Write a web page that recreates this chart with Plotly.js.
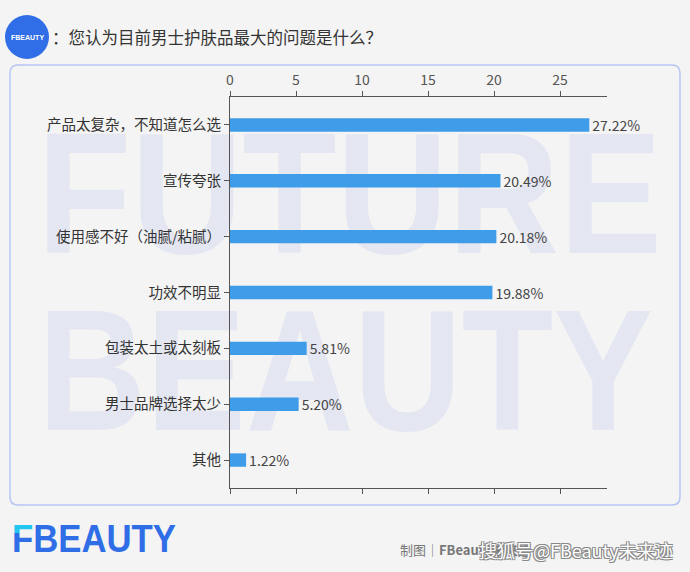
<!DOCTYPE html>
<html>
<head>
<meta charset="utf-8">
<script src="https://cdn.plot.ly/plotly-3.0.1.min.js"></script>
<style>
  html, body { margin:0; padding:0; background:#f4f4f4; }
  #wrap { position:relative; width:690px; height:572px; overflow:hidden; }
  #bg { position:absolute; left:0; top:0; }
  #chart { position:absolute; left:0; top:0; width:690px; height:572px; }
</style>
</head>
<body>
<div id="wrap">
<svg id="bg" width="690" height="572" xmlns="http://www.w3.org/2000/svg">
  <defs>
    <linearGradient id="fgrad" gradientUnits="userSpaceOnUse" x1="0" y1="525" x2="0" y2="552">
      <stop offset="0.3" stop-color="#22c6f0"/>
      <stop offset="0.3" stop-color="#2f6ee6"/>
    </linearGradient>
  </defs>
  <g transform="translate(37,253) scale(1,1.23)">
    <text x="0" y="0" font-family="Liberation Sans Narrow, Liberation Sans, Arial, sans-serif" font-weight="700" font-size="140" fill="#e4e7f2" textLength="625" lengthAdjust="spacingAndGlyphs">FUTURE</text>
  </g>
  <g transform="translate(38,430) scale(1,1.23)">
    <text x="0" y="0" font-family="Liberation Sans Narrow, Liberation Sans, Arial, sans-serif" font-weight="700" font-size="140" fill="#e4e7f2" textLength="615" lengthAdjust="spacingAndGlyphs">BEAUTY</text>
  </g>
  <text x="12" y="552" font-family="Liberation Sans Narrow, Liberation Sans, Arial, sans-serif" font-weight="700" font-size="38" fill="#2f6ee6" textLength="164" lengthAdjust="spacingAndGlyphs"><tspan fill="url(#fgrad)">F</tspan>BEAUTY</text>
</svg>
<div id="chart"></div>
</div>
<script>
// ---- data ----
const categories = ['产品太复杂，不知道怎么选','宣传夸张','使用感不好（油腻/粘腻）','功效不明显','包装太土或太刻板','男士品牌选择太少','其他'];
const values = [27.22, 20.49, 20.18, 19.88, 5.81, 5.20, 1.22];
const xTickVals = [0, 5, 10, 15, 20, 25];
const titleText = '：您认为目前男士护肤品最大的问题是什么？';
const footerText = '制图｜<b>FBeauty未来迹</b>';
const sourceMark = '搜狐号@FBeauty未来迹';

// ---- layout helpers (pixel -> paper) ----
const L = 230, R = 607, T = 97, B = 488;
const px = x => (x - L) / (R - L);
const py = y => (B - y) / (B - T);
const FONT = 'Noto Sans CJK SC, Noto Sans, sans-serif';

function roundRect(x0, y0, x1, y1, r) {
  return `M ${px(x0+r)},${py(y0)} L ${px(x1-r)},${py(y0)} Q ${px(x1)},${py(y0)} ${px(x1)},${py(y0+r)} ` +
         `L ${px(x1)},${py(y1-r)} Q ${px(x1)},${py(y1)} ${px(x1-r)},${py(y1)} ` +
         `L ${px(x0+r)},${py(y1)} Q ${px(x0)},${py(y1)} ${px(x0)},${py(y1-r)} ` +
         `L ${px(x0)},${py(y0+r)} Q ${px(x0)},${py(y0)} ${px(x0+r)},${py(y0)} Z`;
}

const trace = {
  type: 'bar',
  orientation: 'h',
  y: categories,
  x: values,
  marker: { color: '#3e9ce9' },
  texttemplate: '%{x:.2f}%',
  textposition: 'outside',
  constraintext: 'none',
  cliponaxis: false,
  textfont: { family: FONT, size: 14, color: '#444' },
  hoverinfo: 'none'
};

const layout = {
  width: 690, height: 572,
  margin: { l: L, r: 690 - R, t: T, b: 572 - B, autoexpand: false },
  paper_bgcolor: 'rgba(0,0,0,0)',
  plot_bgcolor: 'rgba(0,0,0,0)',
  bargap: 0.76,
  showlegend: false,
  font: { family: FONT },
  xaxis: {
    side: 'top', range: [0, 28.56], tickvals: xTickVals,
    ticks: 'outside', ticklen: 5, tickcolor: '#555', tickwidth: 1,
    showline: true, linecolor: '#555', linewidth: 1, mirror: 'ticks',
    showgrid: false, zeroline: false,
    tickfont: { family: FONT, size: 14, color: '#555' }
  },
  yaxis: {
    autorange: 'reversed', type: 'category',
    ticks: 'outside', ticklen: 5, tickcolor: '#555', tickwidth: 1,
    showline: true, linecolor: '#555', linewidth: 1,
    showgrid: false, zeroline: false,
    tickfont: { family: FONT, size: 14.5, color: '#333' }
  },
  shapes: [
    { type: 'path', xref: 'paper', yref: 'paper', layer: 'below',
      path: roundRect(10, 65, 680, 505, 8),
      line: { color: '#b7c6f1', width: 1.5 }, fillcolor: 'rgba(0,0,0,0)' },
    { type: 'circle', xref: 'paper', yref: 'paper', layer: 'above',
      x0: px(5), x1: px(49), y0: py(59), y1: py(15),
      fillcolor: '#2f6ee6', line: { width: 0 } }
  ],
  annotations: [
    { xref: 'paper', yref: 'paper', x: px(27), y: py(38), xanchor: 'center', yanchor: 'middle',
      text: '<b>FBEAUTY</b>', showarrow: false,
      font: { family: 'Liberation Sans, Arial, sans-serif', size: 7, color: '#ffffff' } },
    { xref: 'paper', yref: 'paper', x: px(50), y: py(37), xanchor: 'left', yanchor: 'middle',
      text: titleText, showarrow: false,
      font: { family: FONT, size: 16.5, color: '#333' } },
    { xref: 'paper', yref: 'paper', x: px(398), y: py(549), xanchor: 'left', yanchor: 'middle',
      text: footerText, showarrow: false,
      font: { family: FONT, size: 13, color: '#777' } },
    { xref: 'paper', yref: 'paper', x: px(477), y: py(550), xanchor: 'left', yanchor: 'middle',
      text: sourceMark, showarrow: false,
      font: { family: FONT, size: 18, color: '#ffffff',
              shadow: '1px 1px 0 #888, -1px -1px 0 #888, 1px -1px 0 #888, -1px 1px 0 #888' } }
  ]
};

Plotly.newPlot('chart', [trace], layout, { displayModeBar: false, staticPlot: true });
</script>
</body>
</html>
